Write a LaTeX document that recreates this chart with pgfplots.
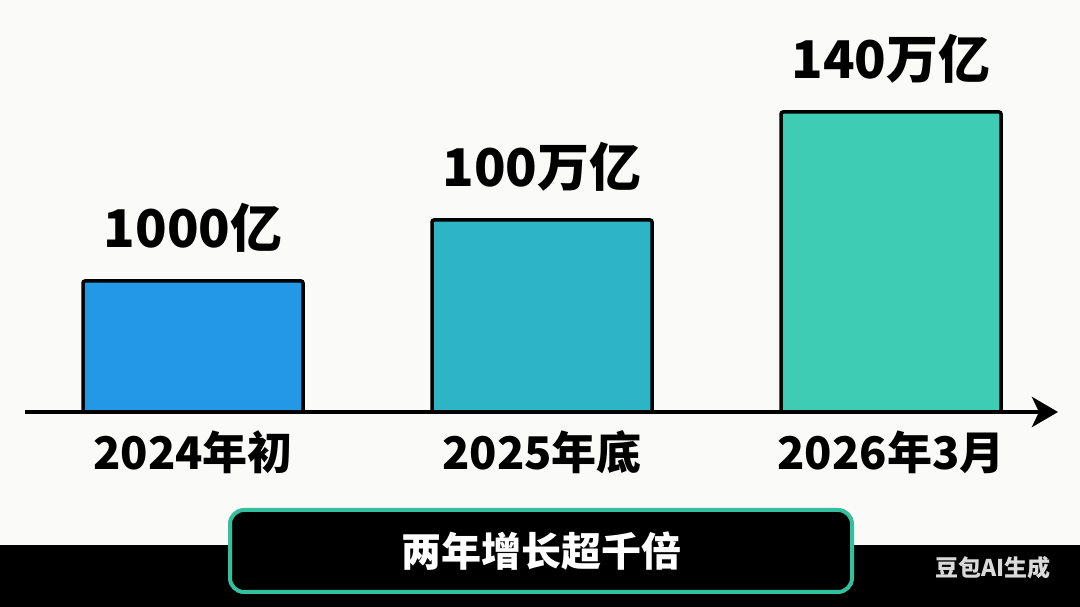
\documentclass[border=0pt]{standalone}
\usepackage{fontspec}
\setmainfont{Noto Sans CJK SC}
\usepackage{pgfplots}
\pgfplotsset{compat=1.18}
\usetikzlibrary{arrows.meta}
\definecolor{bg}{RGB}{250,250,249}
\definecolor{cA}{RGB}{35,152,228}
\definecolor{cB}{RGB}{45,181,198}
\definecolor{cC}{RGB}{62,205,180}
\definecolor{boxc}{RGB}{52,192,156}
\definecolor{wm}{RGB}{218,218,218}
\begin{document}
\begin{tikzpicture}[x=1pt,y=1pt]
\useasboundingbox (0,0) rectangle (1080,607);
\fill[bg] (0,0) rectangle (1080,607);
\fill[black] (0,0) rectangle (1080,62);
\begin{axis}[
  at={(25pt,195pt)}, anchor=south west,
  scale only axis, width=1033pt, height=300pt,
  xmin=-0.4814, xmax=2.4785, ymin=0, ymax=300,
  axis x line=bottom, axis y line=none,
  axis line style={line width=4.5pt, -{Stealth[length=26pt,width=30pt,inset=7pt]}},
  ybar, bar width=220pt,
  xtick={0,1,2}, xticklabels={2024年初,2025年底,2026年3月},
  major tick length=0pt,
  xticklabel style={font=\bfseries\fontsize{45}{45}\selectfont, anchor=base, yshift=-58pt},
  every node near coord/.append style={font=\bfseries\fontsize{52}{52}\selectfont, text=black, anchor=base, yshift=33pt},
  clip=false,
]
\addplot[fill=cA, draw=black, line width=3.5pt, rounded corners=2pt, bar shift=0pt, nodes near coords={1000亿}] coordinates {(0,131)};
\addplot[fill=cB, draw=black, line width=3.5pt, rounded corners=2pt, bar shift=0pt, nodes near coords={100万亿}] coordinates {(1,192)};
\addplot[fill=cC, draw=black, line width=3.5pt, rounded corners=2pt, bar shift=0pt, nodes near coords={140万亿}] coordinates {(2,300)};
\end{axis}
\draw[draw=boxc, line width=4pt, fill=black, rounded corners=14pt] (230,15) rectangle (852,97);
\node[text=white, font=\bfseries\fontsize{40}{40}\selectfont] at (541,56) {两年增长超千倍};
\node[text=wm, font=\bfseries\fontsize{23}{23}\selectfont] at (993,39) {豆包AI生成};
\end{tikzpicture}
\end{document}
